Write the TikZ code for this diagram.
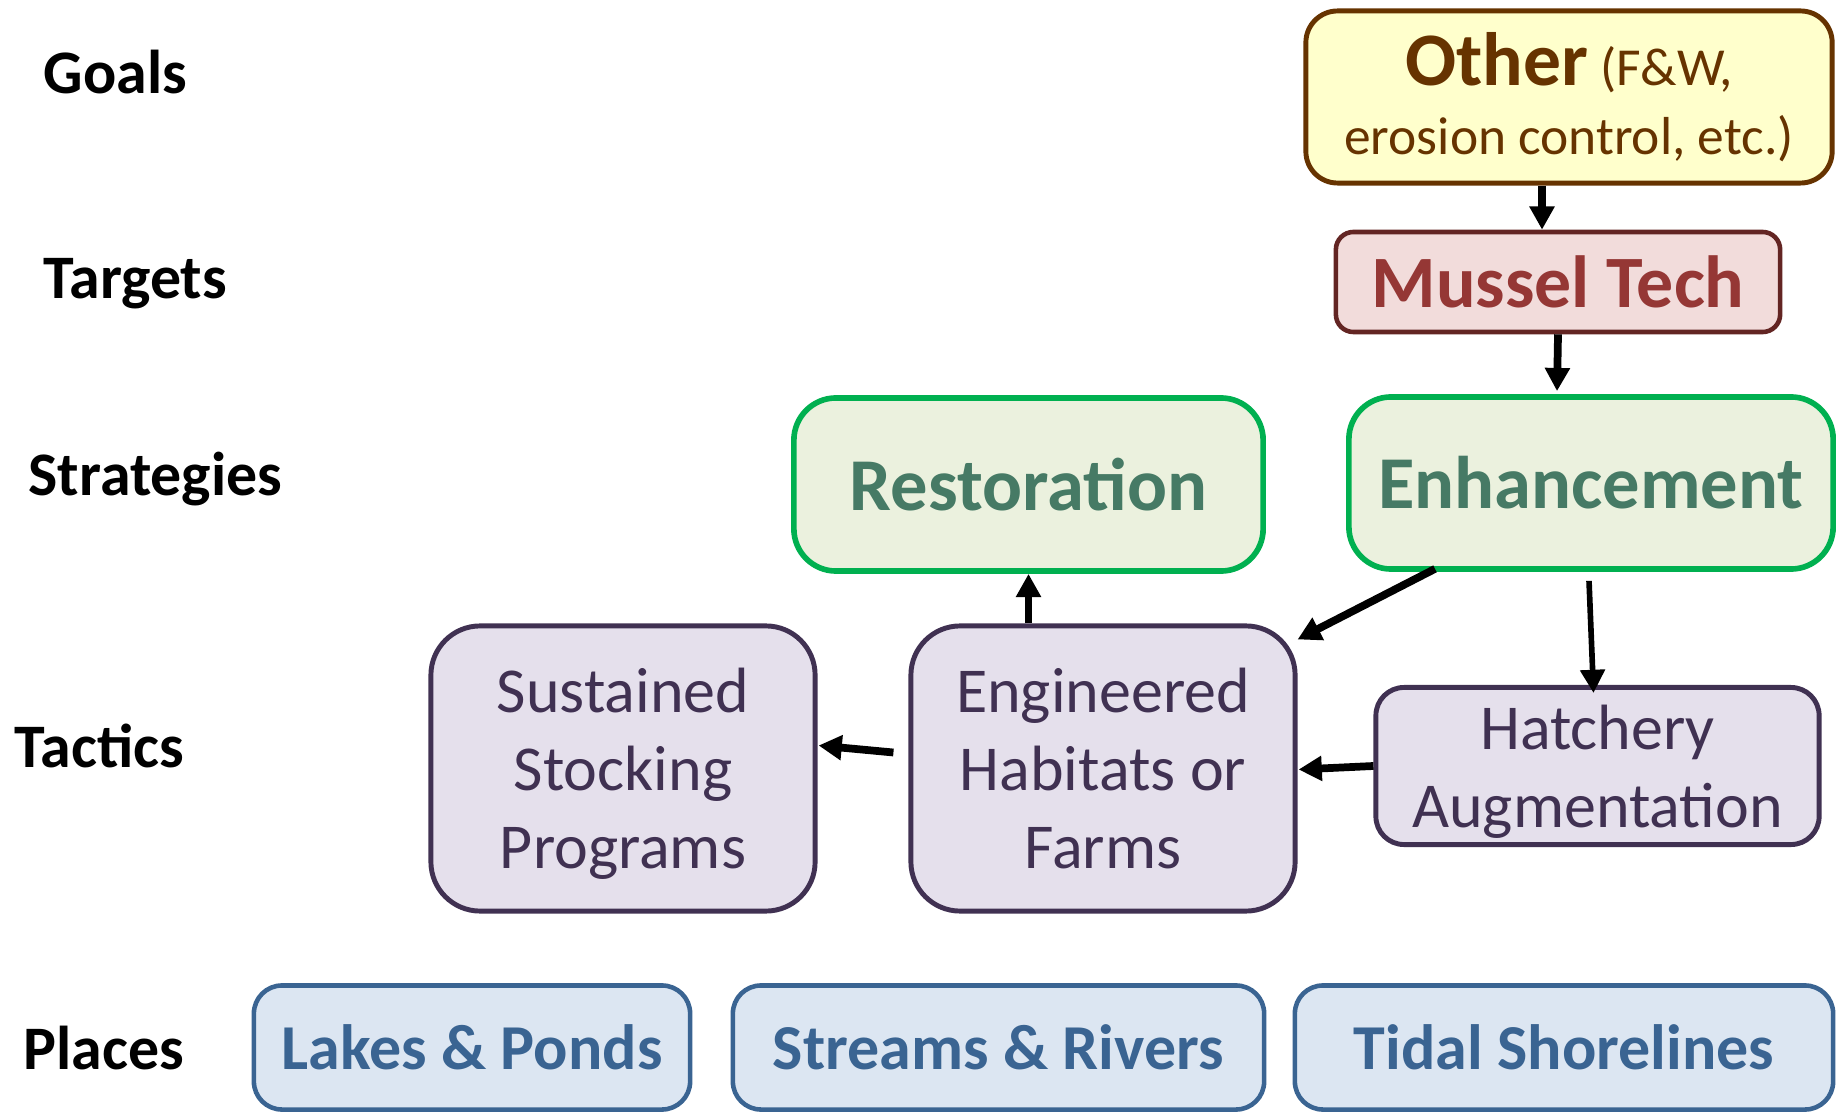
\documentclass[tikz,border=0pt]{standalone}
\usepackage{fontspec}
\setmainfont{Carlito}
\definecolor{goalfill}{RGB}{255, 255, 204}
\definecolor{goalbrown}{RGB}{102, 51, 0}
\definecolor{targetfill}{RGB}{242, 220, 219}
\definecolor{targetline}{RGB}{99, 37, 35}
\definecolor{targettext}{RGB}{149, 55, 53}
\definecolor{stratfill}{RGB}{235, 241, 222}
\definecolor{stratline}{RGB}{0, 176, 80}
\definecolor{strattext}{RGB}{70, 122, 101}
\definecolor{tacticfill}{RGB}{229, 224, 236}
\definecolor{tacticline}{RGB}{64, 49, 82}
\definecolor{placefill}{RGB}{220, 230, 242}
\definecolor{placeline}{RGB}{58, 100, 146}
\usetikzlibrary{positioning,shapes,arrows.meta,calc}

\begin{document}
\begin{tikzpicture}[x=0.01cm, y=-0.01cm,
    level/.style={anchor=base west, inner sep=0pt, font=\fontsize{17.6}{21}\selectfont\bfseries},
    box/.style={draw, rounded corners, inner sep=0pt, align=center, anchor=center},
    goalbox/.style={box, fill=goalfill, draw=goalbrown, text=goalbrown, line width=1.4pt,
        rounded corners=9pt, font=\fontsize{15.2}{19.5}\selectfont},
    targetbox/.style={box, fill=targetfill, draw=targetline, text=targettext, line width=1.3pt,
        rounded corners=5pt, font=\fontsize{21}{24}\selectfont\bfseries},
    stratbox/.style={box, fill=stratfill, draw=stratline, text=strattext, line width=1.6pt,
        rounded corners=12pt, font=\fontsize{21.2}{24}\selectfont\bfseries},
    tacticbox/.style={box, fill=tacticfill, draw=tacticline, text=tacticline, line width=1.4pt,
        rounded corners=14pt, text depth=0pt, font=\fontsize{18.2}{22.2}\selectfont},
    placebox/.style={box, fill=placefill, draw=placeline, text=placeline, line width=1.3pt,
        rounded corners=8pt, font=\fontsize{18.2}{22}\selectfont\bfseries},
    arr/.style={-{Triangle[width=6.8pt, length=6.6pt]}, line width=2.2pt}]
    \useasboundingbox (0,0) rectangle (1837,1113);

    % Row labels
    \node[level] (goals) at (43,94) {Goals};
    \node[level] (targets) at (43,299) {Targets};
    \node[level] (strategies) at (28,495) {Strategies};
    \node[level] (tactics) at (14,767) {Tactics};
    \node[level] (places) at (23,1069) {Places};

    % Goal and target
    \node[goalbox, minimum width=5.26cm, minimum height=1.72cm] (other) at (1569,97)
        {{\fontsize{21.5}{19.5}\selectfont\bfseries Other} (F\&W,\\erosion control, etc.)};
    \node[targetbox, minimum width=4.44cm, minimum height=1cm] (mussel) at (1558,282) {Mussel Tech};

    % Strategies
    \node[stratbox, minimum width=4.69cm, minimum height=1.73cm] (restor) at (1028.5,484.5) {Restoration};
    \node[stratbox, minimum width=4.84cm, minimum height=1.72cm] (enhance) at (1591,483) {Enhancement};

    % Tactics
    \node[tacticbox, minimum width=3.84cm, minimum height=2.85cm] (sustain) at (623,768.5)
        {Sustained\\Stocking\\Programs};
    \node[tacticbox, minimum width=3.84cm, minimum height=2.85cm] (engin) at (1103,768.5)
        {Engineered\\Habitats or\\Farms};
    \node[tacticbox, rounded corners=8pt, minimum width=4.43cm, minimum height=1.57cm] (hatch) at (1597.5,766)
        {Hatchery\\Augmentation};

    % Places
    \node[placebox, minimum width=4.36cm, minimum height=1.24cm] (lakes) at (472,1047.5) {Lakes \& Ponds};
    \node[placebox, minimum width=5.31cm, minimum height=1.24cm] (streams) at (998.5,1047.5) {Streams \& Rivers};
    \node[placebox, minimum width=5.38cm, minimum height=1.24cm] (tidal) at (1564,1047.5) {Tidal Shorelines};

    % Arrows
    \draw[arr] ($(other.south)+(-27,0)$) -- ($(mussel.north)+(-16,0)$);
    \draw[arr] (mussel.south) -- ($(enhance.north)+(-34,-3)$);
    \draw[arr] (engin.north -| restor.south) -- (restor.south);
    \draw[arr] ($(enhance.south)+(-156,-3)$) -- ($(engin.north east)+(0,16)$);
    \draw[arr, line width=1.6pt] ($(enhance.south)+(-2,9)$) -- ($(hatch.north)+(-4,8)$);
    \draw[arr] (hatch.west) -- ($(engin.east)+(1,1)$);
    \draw[arr] ($(engin.west)+(-15,-16)$) -- ($(sustain.east)+(1,-23)$);
\end{tikzpicture}
\end{document}
